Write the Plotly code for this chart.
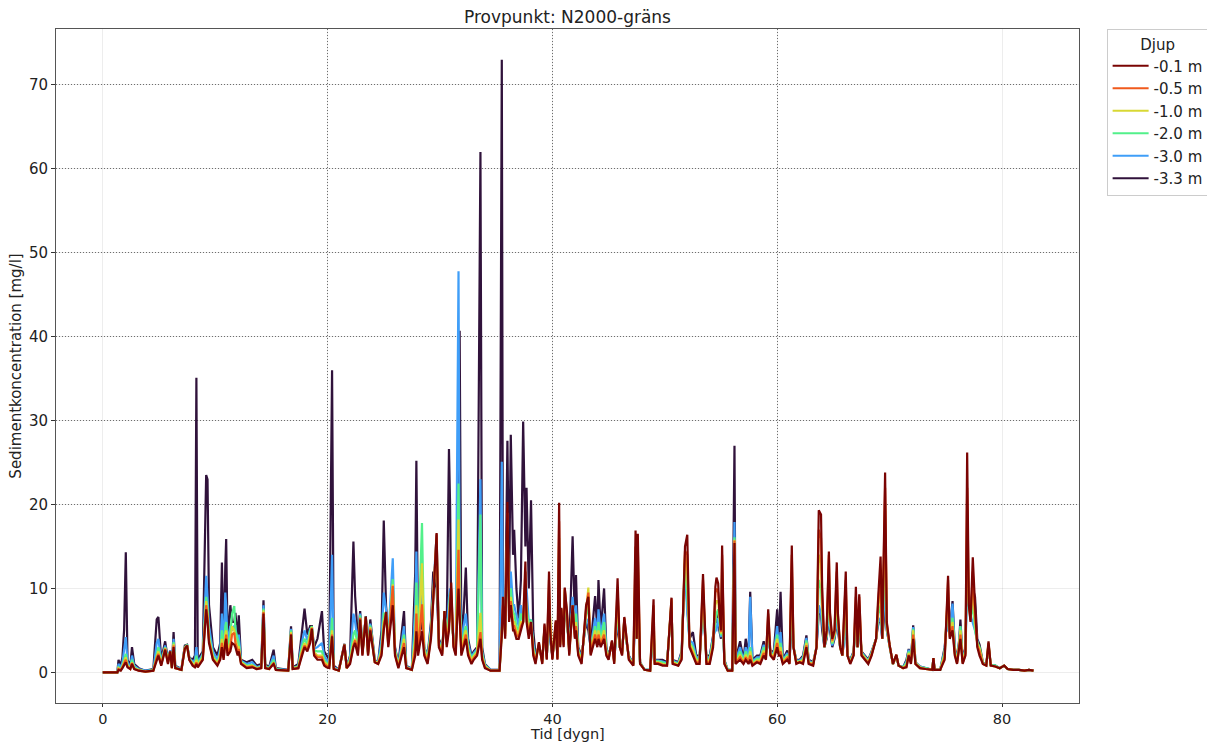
import plotly.graph_objects as go

# ---------------- data ----------------
TID = [
    # 0 - 9
    0.0, 1.3, 1.4, 1.6, 1.75, 1.9, 2.05, 2.2, 2.45, 2.6, 2.8, 3.2, 3.8, 4.5, 4.8, 4.95, 5.2, 5.55, 5.8, 6.0, 6.15, 6.3, 6.45, 7.0, 7.3, 7.5, 7.7, 8.0, 8.2, 8.33, 8.45, 8.9,
    # 9 - 16.5
    9.2, 9.32, 9.45, 9.8, 10.2, 10.45, 10.6, 10.75, 10.9, 10.98, 11.1, 11.35, 11.5, 11.7, 11.8, 12.0, 12.1, 12.3, 12.8, 13.3, 13.7, 14.1, 14.3, 14.45, 14.8, 15.2, 15.4, 16.5,
    # 16.7 - 24.5
    16.75, 16.9, 17.4, 17.7, 17.95, 18.2, 18.45, 18.6, 18.8, 19.1, 19.5, 19.7, 19.9, 20.15, 20.4, 20.55, 21.0, 21.5, 21.7, 22.0, 22.3, 22.45, 22.7, 22.9, 23.1, 23.4, 23.6, 23.8, 24.2, 24.5,
    # 24.8 - 33.3
    24.8, 25.0, 25.2, 25.4, 25.8, 26.0, 26.3, 26.8, 27.0, 27.5, 27.8, 27.9, 28.05, 28.4, 28.6, 28.9, 29.2, 29.4, 29.7, 29.9, 30.2, 30.4, 30.6, 30.8, 30.9, 31.0, 31.2, 31.4, 31.65, 31.75, 31.9, 32.1, 32.3, 32.5, 32.8, 33.0, 33.3,
    # 33.6 - 42.6
    33.6, 33.75, 34.0, 34.5, 35.3, 35.5, 35.6, 35.8, 36.0, 36.15, 36.3, 36.5, 36.6, 36.8, 37.0, 37.2, 37.4, 37.6, 37.7, 37.9, 38.1, 38.3, 38.5, 38.8, 39.1, 39.3, 39.5, 39.7, 39.8, 40.0, 40.3, 40.45, 40.6, 40.7, 40.8, 41.0, 41.1, 41.3, 41.5, 41.8, 42.0, 42.1, 42.3, 42.6,
    # 43 - 51.5
    43.0, 43.2, 43.4, 43.8, 44.0, 44.1, 44.3, 44.6, 44.8, 45.0, 45.3, 45.5, 45.8, 46.0, 46.2, 46.4, 46.55, 46.8, 47.2, 47.4, 47.5, 47.6, 47.8, 48.2, 48.7, 49.0, 49.1, 49.4, 49.8, 50.2, 50.6, 50.7, 51.2, 51.5,
    # 51.8 - 61.1
    51.8, 52.0, 52.2, 52.5, 52.8, 53.1, 53.4, 53.5, 53.7, 54.0, 54.3, 54.5, 54.6, 54.75, 54.85, 55.0, 55.1, 55.3, 55.6, 56.0, 56.2, 56.3, 56.7, 57.0, 57.2, 57.45, 57.6, 57.8, 58.2, 58.5, 58.8, 59.0, 59.2, 59.4, 59.7, 60.0, 60.15, 60.3, 60.5, 60.9, 61.1,
    # 61.3 - 70.8
    61.3, 61.45, 61.7, 62.0, 62.3, 62.6, 62.8, 63.2, 63.5, 63.7, 63.9, 64.0, 64.2, 64.4, 64.6, 64.7, 64.9, 65.1, 65.3, 65.4, 65.6, 65.8, 66.1, 66.25, 66.5, 66.8, 67.0, 67.15, 67.3, 67.5, 67.8, 68.1, 68.4, 68.8, 69.0, 69.2, 69.35, 69.6, 69.75, 70.0, 70.3, 70.6, 70.8,
    # 71.2 - 82.8
    71.2, 71.5, 71.7, 71.9, 72.1, 72.3, 72.7, 73.2, 73.8, 73.9, 74.0, 74.5, 74.9, 75.1, 75.2, 75.35, 75.6, 75.8, 76.0, 76.2, 76.3, 76.5, 76.75, 76.9, 77.05, 77.2, 77.4, 77.6, 77.8, 78.0, 78.3, 78.6, 78.8, 79.0, 79.4, 79.8, 80.2, 80.5, 81.0, 81.5, 82.0, 82.4, 82.8,
]

D01 = [  # -0.1 m
    0, 0, .3, .2, .5, .8, 1.2, .6, .4, 1.0, .4, .2, .1, .2, 1.5, 2.0, .8, 2.7, 1.0, 2.5, .5, 3.0, .5, .3, 2.8, 3.2, 1.5, .8, .6, 1.0, .6, 1.5,
    7.5, 6.0, 3.5, 1.5, .8, 1.5, 3.0, 1.5, 3.5, 4.0, 2.0, 2.5, 3.5, 3.3, 3.0, 2.0, 2.5, 1.0, .5, .6, .4, .5, 7.0, .5, .4, 1.0, .3, .2,
    4.5, .4, .5, 2.0, 3.0, 2.5, 3.5, 5.2, 2.0, 1.5, 1.5, .8, .6, .5, 4.3, .4, .2, 3.3, .5, 1.0, 3.0, 3.5, 2.0, 6.3, 2.0, 6.6, 2.0, 5.0, 1.2, 1.0,
    2.0, 5.0, 7.2, 3.0, 8.0, 2.0, .5, 3.0, .5, .3, 2.0, 4.9, 2.0, 4.9, 2.0, 1.0, 4.0, 8.5, 16.6, 3.0, 2.0, 7.3, 3.0, 5.0, 8.0, 10.7, 3.0, 2.0, 10.0, 6.0, 2.0, 3.0, 4.0, 2.0, 1.0, 1.5, 2.0,
    4.0, 1.5, .5, .2, .2, 4.3, 9.0, 4.0, 20.3, 6.0, 8.0, 5.0, 5.0, 4.0, 4.0, 5.0, 6.0, 13.2, 6.0, 4.0, 6.0, 2.0, 1.0, 3.6, 1.0, 5.8, 1.5, 12.0, 5.0, 1.5, 6.2, 1.5, 20.2, 3.0, 7.7, 3.0, 10.1, 7.2, 2.0, 8.0, 4.0, 5.0, 2.0, 1.0,
    8.0, 9.0, 2.0, 4.0, 3.0, 4.0, 3.0, 4.0, 2.0, 1.5, 3.8, 1.0, 11.2, 3.0, 2.0, 6.6, 4.5, 1.5, .8, 16.9, 4.0, 16.5, 1.0, .3, .2, 8.7, 1.0, 1.0, .8, .8, 8.9, 1.0, .8, 1.5,
    15.0, 16.4, 3.0, 2.0, 1.0, 1.0, 11.7, 8.1, 1.0, 1.0, 3.0, 10.2, 11.3, 10.6, 7.4, 5.0, 15.1, 1.0, .2, .2, 15.4, 1.0, 1.5, 1.0, 1.5, 1.0, 1.5, .8, 1.2, 1.0, 2.0, 1.5, 7.5, 2.0, 1.5, 3.0, 2.0, 2.0, 1.0, 1.5, 1.0,
    15.1, 3.0, 1.0, 1.2, 1.0, 3.0, 1.0, .8, 3.0, 19.3, 18.8, 10.1, 3.0, 5.0, 14.4, 7.1, 4.0, 5.0, 13.1, 7.1, 3.0, 2.0, 12.0, 2.0, 1.0, 2.0, 10.2, 3.0, 9.3, 2.0, 1.5, 1.0, 2.0, 4.0, 9.3, 13.8, 4.0, 23.8, 6.0, 3.3, 1.0, 2.1, .8,
    .5, .6, 2.0, 1.0, 4.0, 1.0, .5, .4, .3, 1.7, .3, .3, 1.5, 8.0, 11.5, 4.0, 5.0, 2.0, 1.0, 3.0, 4.0, 1.0, 2.0, 26.2, 8.0, 6.0, 13.7, 8.0, 3.0, 2.0, 1.0, .8, 3.7, .8, .7, .5, .8, .4, .3, .3, .2, .3, .2,
]

D05 = [  # -0.5 m
    0, 0, .4, .3, .6, 1.0, 1.5, .7, .4, 1.1, .4, .2, .1, .2, 1.8, 2.2, .9, 2.8, 1.1, 2.5, .5, 3.2, .5, .3, 2.9, 3.2, 1.5, .9, .7, 1.2, .7, 1.6,
    8.0, 6.5, 3.8, 1.6, .9, 1.7, 3.5, 1.7, 4.0, 4.5, 2.3, 3.0, 4.5, 4.7, 3.5, 2.5, 2.8, 1.1, .6, .7, .4, .5, 7.2, .5, .4, 1.1, .3, .2,
    4.6, .4, .5, 2.2, 3.2, 2.7, 4.0, 5.3, 2.2, 1.8, 1.8, 1.0, .8, .6, 4.5, .4, .2, 3.3, .5, 1.2, 3.2, 3.8, 2.2, 6.5, 2.1, 6.6, 2.1, 5.2, 1.2, 1.0,
    2.3, 5.5, 7.0, 3.2, 10.3, 2.2, .6, 3.5, .5, .3, 3.0, 7.0, 2.3, 8.1, 2.3, 1.2, 4.3, 8.6, 16.5, 3.2, 2.2, 7.3, 3.3, 5.5, 8.5, 10.0, 3.2, 2.2, 14.6, 7.0, 2.3, 3.5, 4.5, 2.3, 1.2, 1.7, 2.2,
    4.8, 1.7, .6, .2, .2, 4.5, 8.0, 4.3, 19.0, 6.5, 8.5, 5.5, 5.5, 4.5, 4.2, 5.5, 6.0, 12.0, 6.5, 4.5, 6.0, 2.3, 1.2, 3.5, 1.1, 5.6, 1.6, 11.0, 5.5, 1.6, 6.0, 1.6, 18.0, 3.2, 7.6, 3.2, 10.0, 7.0, 2.2, 8.0, 4.2, 5.5, 2.2, 1.2,
    7.6, 9.5, 2.2, 4.5, 3.3, 4.5, 3.3, 4.5, 2.2, 1.6, 3.7, 1.1, 10.0, 3.0, 2.1, 6.5, 4.4, 1.6, .8, 15.0, 4.0, 15.0, 1.0, .3, .2, 8.0, 1.1, 1.1, .9, .8, 8.8, 1.1, .8, 1.7,
    14.5, 14.0, 3.2, 2.3, 1.2, 1.2, 11.0, 7.6, 1.2, 1.2, 3.3, 9.5, 10.0, 9.5, 7.0, 4.8, 14.0, 1.1, .2, .2, 15.7, 1.1, 1.8, 1.1, 1.8, 1.2, 2.0, .9, 1.3, 1.2, 2.3, 1.7, 7.0, 2.1, 1.7, 3.5, 2.2, 2.5, 1.1, 1.7, 1.1,
    14.0, 3.0, 1.1, 1.2, 1.2, 3.2, 1.1, .9, 3.0, 17.0, 16.0, 9.0, 3.0, 4.8, 14.0, 6.8, 3.8, 4.8, 12.0, 6.8, 3.0, 2.0, 11.0, 2.0, 1.1, 2.1, 9.0, 3.0, 9.0, 2.1, 1.6, 1.1, 2.1, 4.0, 8.5, 12.0, 4.0, 22.0, 5.8, 3.2, 1.0, 2.1, .8,
    .5, .7, 2.1, 1.1, 4.5, 1.0, .5, .4, .3, 1.7, .3, .3, 1.8, 7.6, 11.0, 4.2, 5.5, 2.2, 1.1, 3.2, 4.5, 1.1, 2.2, 22.0, 8.2, 6.2, 12.0, 7.0, 3.2, 2.5, 1.0, .8, 3.5, .8, .7, .5, .8, .4, .3, .3, .2, .3, .2,
]

D10 = [  # -1.0 m
    0, 0, .5, .3, .7, 1.2, 1.8, .8, .5, 1.2, .5, .3, .1, .2, 2.0, 2.5, 1.0, 2.9, 1.2, 2.5, .5, 3.4, .5, .3, 2.9, 3.2, 1.6, 1.0, .8, 1.5, .8, 1.8,
    8.5, 7.0, 4.0, 1.8, 1.0, 2.0, 4.0, 2.0, 4.5, 5.0, 2.6, 3.5, 5.5, 5.0, 4.0, 3.0, 3.0, 1.2, .7, .8, .5, .6, 7.4, .6, .4, 1.2, .3, .2,
    4.8, .5, .6, 2.5, 3.5, 3.0, 4.5, 5.4, 2.4, 2.0, 2.0, 1.2, 1.0, .7, 5.0, .5, .2, 3.3, .5, 1.4, 3.5, 4.0, 2.5, 6.5, 2.2, 6.6, 2.2, 5.4, 1.3, 1.1,
    2.6, 6.0, 7.0, 3.4, 10.5, 2.4, .7, 4.0, .6, .3, 4.0, 8.0, 2.6, 13.0, 2.5, 1.4, 4.6, 8.7, 16.0, 3.4, 2.4, 7.3, 3.6, 6.0, 9.0, 9.0, 3.4, 2.4, 18.2, 8.0, 2.6, 4.0, 5.0, 2.6, 1.4, 1.9, 2.4,
    7.1, 1.9, .7, .2, .2, 5.0, 7.0, 4.6, 18.0, 7.0, 9.0, 6.0, 6.0, 5.0, 4.5, 6.0, 6.0, 10.0, 7.0, 5.0, 6.0, 2.6, 1.4, 3.4, 1.2, 5.4, 1.7, 9.0, 6.0, 1.7, 5.8, 1.7, 16.0, 3.4, 7.5, 3.4, 9.8, 6.8, 2.4, 8.0, 4.5, 6.0, 2.4, 1.4,
    7.2, 10.1, 2.4, 5.0, 3.6, 5.0, 3.6, 5.0, 2.4, 1.7, 3.6, 1.2, 9.0, 3.0, 2.2, 6.4, 4.3, 1.7, .9, 13.0, 4.0, 13.0, 1.1, .3, .2, 7.0, 1.2, 1.2, 1.0, .9, 8.6, 1.2, .9, 1.9,
    14.0, 12.0, 3.4, 2.6, 1.4, 1.4, 10.0, 7.2, 1.4, 1.4, 3.6, 8.0, 8.5, 8.5, 6.5, 4.6, 12.0, 1.2, .2, .2, 15.8, 1.2, 2.1, 1.2, 2.1, 1.4, 2.5, 1.0, 1.4, 1.4, 2.6, 1.9, 6.0, 2.2, 1.9, 4.0, 2.4, 3.0, 1.2, 1.9, 1.2,
    12.0, 3.0, 1.2, 1.3, 1.4, 3.5, 1.2, 1.0, 3.0, 14.0, 13.0, 8.0, 3.0, 4.6, 12.0, 6.4, 3.6, 4.6, 10.0, 6.4, 3.0, 2.0, 10.0, 2.0, 1.2, 2.2, 8.0, 3.0, 8.0, 2.2, 1.7, 1.2, 2.2, 4.0, 7.8, 10.0, 4.0, 20.0, 5.6, 3.2, 1.0, 2.0, .8,
    .5, .9, 2.3, 1.2, 5.0, 1.1, .6, .4, .3, 1.7, .3, .3, 2.1, 7.2, 9.0, 4.4, 6.0, 2.4, 1.2, 3.4, 5.0, 1.2, 2.4, 18.0, 8.4, 6.4, 10.0, 6.0, 3.4, 2.8, 1.1, .8, 3.4, .8, .7, .5, .8, .4, .3, .3, .2, .3, .2,
]

D20 = [  # -2.0 m
    0, 0, .6, .4, .8, 1.5, 2.2, .9, .5, 1.5, .6, .3, .1, .3, 2.3, 3.0, 1.1, 3.0, 1.3, 2.5, .6, 3.6, .6, .3, 3.0, 3.3, 1.6, 1.1, 1.0, 2.0, 1.0, 2.0,
    9.0, 7.5, 4.5, 2.0, 1.2, 2.3, 5.0, 2.3, 5.5, 6.0, 3.0, 4.5, 7.0, 7.9, 5.0, 4.0, 3.5, 1.3, .8, .9, .5, .7, 7.6, .7, .5, 1.5, .4, .2,
    5.0, .5, .7, 3.0, 4.0, 3.3, 5.0, 5.5, 2.6, 2.5, 2.5, 1.5, 1.2, .8, 6.5, .5, .2, 3.3, .5, 1.6, 4.5, 5.0, 3.0, 6.8, 2.3, 6.6, 2.3, 5.6, 1.3, 1.1,
    3.0, 7.0, 7.0, 3.6, 11.1, 2.6, .8, 4.5, .6, .3, 5.0, 10.7, 3.0, 17.8, 2.8, 1.6, 5.0, 9.0, 15.0, 3.6, 2.6, 7.3, 4.0, 7.0, 9.5, 8.0, 3.6, 2.6, 22.5, 9.0, 3.0, 4.5, 5.5, 3.0, 1.6, 2.1, 2.6,
    18.8, 2.2, .8, .2, .2, 5.4, 6.0, 5.0, 15.0, 7.5, 10.0, 7.0, 7.0, 5.5, 5.0, 7.0, 6.0, 9.0, 8.0, 5.5, 6.3, 3.0, 1.6, 3.3, 1.3, 5.2, 1.8, 8.0, 5.0, 1.8, 5.5, 1.8, 14.0, 3.6, 7.4, 3.6, 9.6, 6.6, 2.6, 8.0, 5.0, 7.0, 2.6, 1.6,
    6.8, 8.0, 2.6, 5.5, 4.0, 6.0, 4.0, 6.0, 2.6, 1.8, 3.6, 1.3, 8.0, 3.0, 2.3, 6.3, 4.2, 1.8, .9, 11.0, 4.0, 11.0, 1.1, .3, .3, 6.0, 1.3, 1.3, 1.2, 1.0, 8.4, 1.3, 1.0, 2.1,
    13.5, 9.0, 3.6, 3.0, 1.6, 1.6, 9.0, 6.8, 1.6, 1.6, 3.9, 6.0, 7.0, 7.5, 6.0, 4.4, 10.0, 1.3, .3, .3, 16.1, 1.3, 2.5, 1.3, 2.5, 1.6, 3.0, 1.2, 1.6, 1.6, 3.0, 2.1, 5.0, 2.3, 2.1, 4.5, 2.6, 3.5, 1.3, 2.1, 1.3,
    10.0, 3.0, 1.3, 1.3, 1.6, 3.8, 1.3, 1.0, 3.0, 11.0, 10.0, 7.0, 3.0, 4.4, 10.0, 6.0, 3.4, 4.4, 8.0, 6.0, 3.0, 2.0, 8.0, 2.0, 1.3, 2.3, 7.0, 3.0, 7.0, 2.3, 1.8, 1.3, 2.3, 4.0, 7.0, 8.0, 4.0, 15.0, 5.4, 3.1, 1.0, 2.0, .8,
    .6, 1.1, 2.5, 1.3, 5.2, 1.1, .6, .5, .3, 1.7, .3, .3, 2.4, 6.8, 7.0, 4.6, 6.5, 2.6, 1.3, 3.6, 5.5, 1.3, 2.6, 14.0, 8.6, 6.6, 8.0, 5.0, 3.6, 3.0, 1.1, .9, 3.3, .9, .8, .5, .8, .4, .3, .3, .2, .3, .2,
]

D30 = [  # -3.0 m
    0, 0, 1.0, .6, 1.2, 2.5, 4.2, 1.2, .6, 2.0, .8, .4, .2, .3, 3.5, 4.0, 1.3, 3.2, 1.4, 2.6, .6, 4.0, .7, .4, 3.0, 3.3, 1.7, 1.3, 1.5, 3.0, 1.2, 2.2,
    11.5, 9.0, 5.5, 2.5, 1.5, 2.8, 7.0, 2.6, 9.5, 8.0, 3.5, 5.5, 5.0, 5.5, 5.5, 3.0, 4.5, 1.4, 1.0, 1.2, .6, .8, 8.0, .8, .5, 2.0, .4, .3,
    5.2, .5, .8, 3.5, 5.0, 3.8, 5.2, 5.3, 2.8, 3.0, 3.5, 2.0, 1.5, 1.0, 14.0, .6, .3, 3.3, .6, 1.8, 7.0, 6.0, 3.5, 7.0, 2.4, 6.6, 2.4, 5.8, 1.4, 1.2,
    4.0, 9.5, 7.5, 4.0, 13.6, 2.8, .9, 5.5, .7, .4, 8.0, 14.4, 3.5, 10.0, 3.0, 1.8, 5.5, 10.0, 16.4, 3.8, 2.8, 7.0, 4.5, 9.0, 10.0, 8.0, 3.8, 2.8, 47.8, 12.0, 3.5, 5.5, 7.0, 3.5, 1.8, 2.3, 2.8,
    23.0, 2.5, .9, .3, .3, 25.1, 8.0, 5.5, 14.0, 8.5, 12.0, 8.0, 8.0, 6.5, 5.5, 8.0, 6.0, 9.0, 10.0, 6.0, 6.3, 3.5, 1.8, 3.2, 1.4, 5.0, 1.9, 7.0, 4.0, 1.9, 5.2, 1.9, 12.0, 3.8, 7.2, 3.8, 9.3, 6.3, 2.8, 9.0, 5.5, 8.0, 2.8, 1.8,
    6.4, 6.0, 2.8, 6.5, 4.5, 7.5, 4.5, 7.0, 2.8, 1.9, 3.5, 1.4, 7.0, 3.0, 2.4, 6.2, 4.1, 1.9, 1.0, 9.0, 4.0, 9.0, 1.2, .3, .3, 5.5, 1.4, 1.4, 1.3, 1.1, 8.2, 1.4, 1.1, 2.3,
    13.0, 7.0, 3.8, 3.5, 1.8, 1.8, 8.0, 6.4, 1.8, 1.8, 4.2, 5.0, 5.0, 6.5, 5.5, 4.2, 8.0, 1.4, .3, .3, 17.9, 1.4, 3.0, 1.4, 3.0, 1.8, 9.0, 1.3, 1.8, 1.8, 3.3, 2.3, 4.0, 2.4, 2.3, 5.5, 2.8, 4.8, 1.4, 2.3, 1.4,
    8.0, 3.0, 1.4, 1.4, 1.8, 4.1, 1.4, 1.1, 3.0, 8.0, 7.0, 6.0, 3.0, 4.2, 7.0, 5.5, 3.2, 4.2, 6.0, 5.5, 3.0, 2.0, 6.0, 2.0, 1.4, 2.4, 6.0, 3.0, 6.0, 2.4, 1.9, 1.4, 2.4, 4.0, 6.5, 6.0, 4.0, 10.0, 5.2, 3.0, 1.0, 2.0, .8,
    .6, 1.3, 2.7, 1.4, 5.4, 1.2, .7, .5, .3, 1.7, .3, .3, 2.7, 6.4, 5.0, 4.8, 8.2, 2.8, 1.4, 3.8, 5.5, 1.4, 2.8, 10.0, 8.8, 6.8, 6.0, 5.0, 3.8, 2.5, 1.2, .9, 3.1, .9, .8, .5, .8, .4, .3, .3, .2, .3, .2,
]

D33 = [  # -3.3 m
    0, 0, 1.5, .8, 1.8, 5.1, 14.3, 1.5, .8, 3.0, 1.0, .5, .2, .4, 6.3, 6.6, 1.5, 3.7, 1.5, 2.6, .7, 4.8, .8, .4, 3.2, 3.3, 1.8, 1.5, 2.0, 35.1, 1.5, 2.5,
    23.5, 23.0, 8.0, 3.0, 2.0, 3.5, 13.1, 3.0, 12.5, 15.9, 4.0, 8.0, 6.0, 6.0, 7.1, 4.0, 6.8, 1.5, 1.2, 1.5, .8, 1.0, 8.6, 1.0, .6, 2.7, .5, .3,
    5.5, .6, 1.0, 4.5, 7.6, 4.5, 5.5, 5.5, 3.0, 4.0, 7.3, 2.5, 2.0, 1.5, 36.0, .8, .3, 3.4, .6, 2.0, 15.6, 9.1, 4.0, 7.3, 2.5, 6.7, 2.5, 6.3, 1.5, 1.2,
    5.0, 18.1, 8.0, 4.5, 9.0, 3.0, 1.0, 7.3, .8, .4, 12.0, 25.2, 4.0, 6.0, 3.0, 2.0, 6.0, 12.0, 10.0, 4.0, 3.0, 6.0, 5.0, 26.6, 20.0, 7.0, 4.0, 3.0, 12.0, 40.7, 4.0, 7.0, 12.5, 4.0, 2.0, 2.5, 3.0,
    62.0, 3.0, 1.0, .3, .3, 73.0, 9.0, 6.0, 27.6, 10.0, 28.3, 14.0, 17.0, 10.0, 6.4, 11.0, 29.9, 15.0, 22.0, 10.0, 20.5, 5.0, 2.0, 3.0, 1.5, 5.0, 2.0, 6.0, 4.0, 2.0, 5.0, 2.0, 10.0, 4.0, 7.0, 4.0, 9.0, 6.0, 3.0, 16.2, 6.0, 11.6, 3.0, 2.0,
    6.0, 5.0, 3.0, 9.1, 5.0, 11.0, 5.0, 10.0, 3.0, 2.0, 3.5, 1.5, 6.0, 3.0, 2.5, 6.0, 4.0, 2.0, 1.0, 8.0, 4.0, 8.0, 1.2, .3, .3, 5.0, 1.5, 1.5, 1.5, 1.2, 8.0, 1.5, 1.2, 2.5,
    13.0, 8.0, 4.0, 4.8, 2.0, 2.0, 8.0, 6.0, 2.0, 2.0, 4.5, 6.0, 6.0, 7.0, 5.0, 4.0, 8.0, 1.5, .3, .3, 27.0, 1.5, 3.7, 1.5, 4.0, 2.0, 9.6, 1.5, 2.0, 2.0, 3.7, 2.5, 4.0, 2.5, 2.5, 7.5, 3.0, 9.6, 1.5, 2.6, 1.5,
    6.0, 3.0, 1.5, 1.5, 2.0, 4.4, 1.5, 1.2, 3.0, 7.0, 7.0, 5.0, 3.0, 4.0, 7.0, 5.0, 3.0, 4.0, 6.0, 5.0, 3.0, 2.0, 6.0, 2.0, 1.5, 2.5, 6.0, 3.0, 6.0, 2.5, 2.0, 1.5, 2.5, 4.0, 6.0, 6.0, 4.0, 8.0, 5.0, 3.0, 1.0, 2.0, .8,
    .6, 1.5, 2.8, 1.5, 5.6, 1.2, .7, .5, .3, 1.7, .3, .3, 3.0, 6.0, 7.0, 5.0, 8.5, 3.0, 1.5, 4.0, 6.3, 1.5, 3.0, 12.0, 9.0, 7.0, 10.0, 9.0, 4.0, 3.3, 1.2, .9, 3.0, .9, .8, .5, .8, .4, .3, .3, .2, .3, .2,
]

LABELS = ["-0.1 m", "-0.5 m", "-1.0 m", "-2.0 m", "-3.0 m", "-3.3 m"]
SERIES = [D01, D05, D10, D20, D30, D33]
COLORS = ["#7a0403", "#f05a1c", "#d8d834", "#52f08a", "#3f9ef8", "#30123b"]

X_TICKS = [0, 20, 40, 60, 80]
Y_TICKS = [0, 10, 20, 30, 40, 50, 60, 70]
X_DARK_GRID = [20, 40, 60]
Y_DARK_GRID = [20, 30, 40, 50, 60, 70]

for s in SERIES:
    assert len(s) == len(TID), (len(s), len(TID))

FONT = "DejaVu Sans"
DOT = "1px,2px"

fig = go.Figure()
# deepest first so that the shallow series lies on top
for lab, vals, col in reversed(list(zip(LABELS, SERIES, COLORS))):
    fig.add_trace(go.Scatter(x=TID, y=vals, mode="lines", name=lab,
                             line=dict(color=col, width=2.2)))

# empty helper traces so the overlay axes (dark dotted grid) get drawn
fig.add_trace(go.Scatter(x=[], y=[], xaxis="x2", yaxis="y", showlegend=False, hoverinfo="skip"))
fig.add_trace(go.Scatter(x=[], y=[], xaxis="x", yaxis="y2", showlegend=False, hoverinfo="skip"))

fig.update_layout(
    width=1207, height=744,
    margin=dict(l=56, r=128, t=29, b=41, autoexpand=False),
    paper_bgcolor="white", plot_bgcolor="white",
    font=dict(family=FONT, size=15, color="#222"),
    title=dict(text="Provpunkt: N2000-gräns", x=0.5, xref="paper", xanchor="center",
               y=1 - 17 / 744, yref="container", yanchor="middle",
               font=dict(family=FONT, size=17, color="#222")),
    showlegend=True,
    legend=dict(x=1.027, y=1.0, xanchor="left", yanchor="top", xref="paper", yref="paper",
                traceorder="reversed", bordercolor="#cccccc", borderwidth=1,
                bgcolor="white", font=dict(family=FONT, size=15, color="#222"),
                title=dict(text="Djup", side="top center", font=dict(family=FONT, size=15)),
                itemwidth=36),
    xaxis=dict(range=[-4.16, 86.85], tickvals=X_TICKS, ticks="outside", ticklen=3,
               tickcolor="#333", showline=True, linecolor="#555", linewidth=1, mirror=True,
               showgrid=True, gridcolor="rgba(0,0,0,0.07)", gridwidth=1, zeroline=False,
               automargin=False, tickfont=dict(family=FONT, size=14.5, color="#222")),
    yaxis=dict(range=[-3.65, 76.65], tickvals=Y_TICKS, ticks="outside", ticklen=4,
               tickcolor="#333", showline=True, linecolor="#555", linewidth=1, mirror=True,
               showgrid=True, gridcolor="rgba(0,0,0,0.07)", gridwidth=1, zeroline=False,
               title=dict(text="Sedimentkoncentration [mg/l]", standoff=3,
                          font=dict(family=FONT, size=15)),
               automargin=False, tickfont=dict(family=FONT, size=15, color="#222")),
    xaxis2=dict(overlaying="x", matches="x", anchor="y", tickvals=X_DARK_GRID,
                showticklabels=False, ticks="", showline=False, zeroline=False,
                showgrid=True, gridcolor="#6e6e6e", griddash=DOT, gridwidth=1),
    yaxis2=dict(overlaying="y", matches="y", anchor="x", tickvals=Y_DARK_GRID,
                showticklabels=False, ticks="", showline=False, zeroline=False,
                showgrid=True, gridcolor="#6e6e6e", griddash=DOT, gridwidth=1),
    annotations=[dict(text="Tid [dygn]", x=0.5, xref="paper", xanchor="center",
                      y=-(725 - 703) / 674, yref="paper", yanchor="top",
                      showarrow=False, borderpad=0,
                      font=dict(family=FONT, size=14.5, color="#222"))],
)

fig.write_html("out.html", config={"displayModeBar": False},
               post_script="document.body.style.margin='0';")
